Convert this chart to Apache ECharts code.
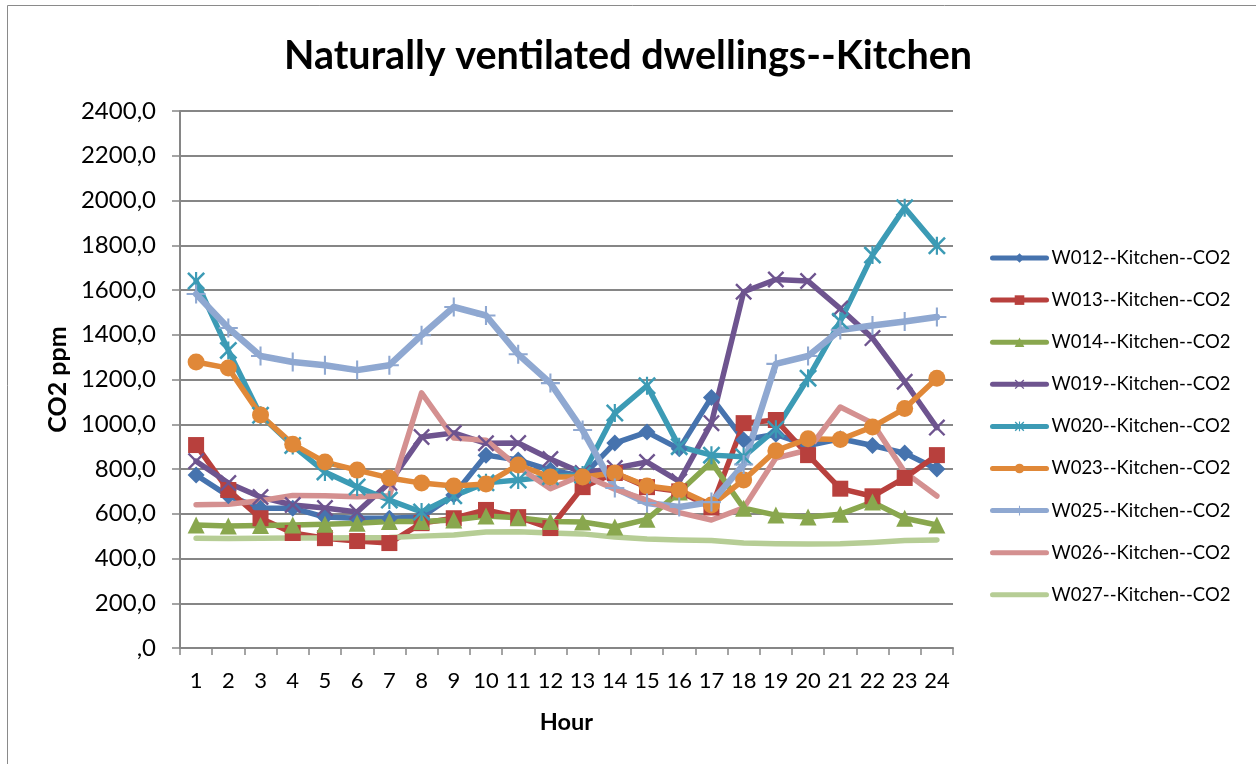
<!DOCTYPE html>
<html>
<head>
<meta charset="utf-8">
<title>Naturally ventilated dwellings--Kitchen</title>
<script src="https://cdn.jsdelivr.net/npm/echarts@6/dist/echarts.min.js"></script>
<style>
  html, body { margin: 0; padding: 0; background: #ffffff; }
  #chart { width: 1256px; height: 764px; }
</style>
</head>
<body>
<div id="chart"></div>
<script>
// Hourly kitchen CO2 concentration (ppm) per dwelling
const hours = ['1','2','3','4','5','6','7','8','9','10','11','12','13','14','15','16','17','18','19','20','21','22','23','24'];
const seriesNames = ['W012--Kitchen--CO2','W013--Kitchen--CO2','W014--Kitchen--CO2','W019--Kitchen--CO2','W020--Kitchen--CO2','W023--Kitchen--CO2','W025--Kitchen--CO2','W026--Kitchen--CO2','W027--Kitchen--CO2'];
const w012 = [773, 680, 625, 625, 585, 580, 580, 585, 684, 862, 840, 795, 768, 916, 965, 890, 1120, 930, 955, 905, 935, 905, 871, 800];
const w013 = [907, 706, 580, 514, 491, 478, 469, 558, 580, 617, 585, 536, 719, 782, 719, 700, 628, 1005, 1019, 862, 712, 678, 760, 862];
const w014 = [550, 545, 548, 550, 553, 558, 565, 565, 572, 590, 582, 565, 563, 541, 575, 697, 831, 625, 594, 585, 598, 652, 580, 550];
const w019 = [835, 737, 675, 639, 626, 608, 738, 943, 961, 915, 916, 845, 782, 804, 831, 745, 1005, 1592, 1647, 1640, 1517, 1385, 1190, 985];
const w020 = [1640, 1330, 1040, 905, 787, 720, 661, 608, 680, 738, 751, 765, 773, 1050, 1172, 900, 862, 855, 978, 1206, 1460, 1756, 1968, 1798];
const w023 = [1278, 1251, 1041, 911, 831, 795, 760, 737, 724, 733, 818, 764, 764, 782, 724, 706, 639, 751, 882, 935, 932, 988, 1070, 1206];
const w025 = [1582, 1430, 1305, 1278, 1264, 1242, 1264, 1398, 1524, 1486, 1313, 1184, 974, 715, 648, 630, 652, 820, 1270, 1305, 1421, 1441, 1459, 1479];
const w026 = [640, 642, 658, 682, 680, 676, 680, 1140, 938, 929, 809, 712, 773, 710, 661, 605, 572, 626, 849, 885, 1077, 1005, 786, 679];
const w027 = [490, 489, 490, 492, 492, 493, 494, 500, 505, 518, 520, 514, 510, 496, 487, 483, 480, 469, 466, 465, 466, 472, 480, 483];
const yTicks = [0, 200, 400, 600, 800, 1000, 1200, 1400, 1600, 1800, 2000, 2200, 2400];

// Marker outlines for the cross, asterisk and plus markers
const SYM_X = 'path://M0,2 L2,0 L20,18 L18,20 Z M18,0 L20,2 L2,20 L0,18 Z';
const SYM_STAR = 'path://M0,2 L2,0 L20,18 L18,20 Z M18,0 L20,2 L2,20 L0,18 Z M8.8,0 L11.2,0 L11.2,20 L8.8,20 Z';
const SYM_PLUS = 'path://M8.9,0 L11.1,0 L11.1,8.9 L20,8.9 L20,11.1 L11.1,11.1 L11.1,20 L8.9,20 L8.9,11.1 L0,11.1 L0,8.9 L8.9,8.9 Z';

const FONT = 'Lato';

const styles = [
  { data: w012, color: '#4673AE', symbol: 'diamond', size: 17, width: 5.5 },
  { data: w013, color: '#B8403D', symbol: 'rect', size: 16, width: 5.5 },
  { data: w014, color: '#89A74E', symbol: 'triangle', size: 17, width: 5.5 },
  { data: w019, color: '#6E548F', symbol: SYM_X, size: 17, width: 5.5 },
  { data: w020, color: '#3C9BB5', symbol: SYM_STAR, size: 18, width: 5.5 },
  { data: w023, color: '#E08838', symbol: 'circle', size: 17, width: 5.5 },
  { data: w025, color: '#8FA8D1', symbol: SYM_PLUS, size: 19, width: 6.5 },
  { data: w026, color: '#D49090', symbol: 'none', size: 0, width: 5.5 },
  { data: w027, color: '#B6CD95', symbol: 'none', size: 0, width: 5.5 }
];

const series = styles.map((s, i) => ({
  name: seriesNames[i],
  type: 'line',
  data: s.data,
  symbol: s.symbol,
  symbolSize: s.size,
  showSymbol: s.symbol !== 'none',
  showAllSymbol: true,
  animation: false,
  color: s.color,
  itemStyle: { color: s.color, borderWidth: 0 },
  lineStyle: { color: s.color, width: s.width, join: 'round', cap: 'round' },
  emphasis: { disabled: true }
}));

// Series without markers show only the line in the legend
const legendItems = seriesNames.map((name, i) =>
  styles[i].symbol === 'none' ? { name: name, itemStyle: { opacity: 0 } } : { name: name }
);

const fmt = v => (v === 0 ? ',0' : v.toFixed(1).replace('.', ','));

const chart = echarts.init(document.getElementById('chart'), null, { renderer: 'canvas' });
chart.setOption({
  backgroundColor: '#ffffff',
  animation: false,
  textStyle: { fontFamily: FONT },
  title: {
    text: 'Naturally ventilated dwellings--Kitchen',
    left: 'center',
    top: 31,
    textStyle: { fontFamily: FONT, fontWeight: 'bold', fontSize: 39.5, color: '#000000' }
  },
  graphic: [{
    type: 'rect',
    shape: { x: 7.5, y: 5.5, width: 1300, height: 800 },
    style: { fill: 'none', stroke: '#8a8a8a', lineWidth: 1 },
    silent: true,
    z: -1
  }],
  legend: {
    orient: 'vertical',
    left: 985,
    top: 243,
    itemWidth: 54,
    itemHeight: 12,
    itemGap: 22.1,
    lineStyle: { width: 5, cap: 'round' },
    textStyle: { fontFamily: FONT, fontSize: 18.5, color: '#000000', lineHeight: 20 },
    data: legendItems
  },
  grid: { left: 180, right: 303, top: 111, bottom: 116, containLabel: false },
  xAxis: {
    type: 'category',
    data: hours,
    boundaryGap: true,
    name: 'Hour',
    nameLocation: 'middle',
    nameGap: 62,
    nameTextStyle: { fontFamily: FONT, fontWeight: 'bold', fontSize: 23.5, color: '#000000' },
    axisLine: { lineStyle: { color: '#868686', width: 2 } },
    axisTick: { show: true, interval: 0, length: 7, alignWithLabel: false, lineStyle: { color: '#868686', width: 1.5 } },
    axisLabel: { interval: 0, margin: 22, fontFamily: FONT, fontSize: 22, color: '#000000' },
    splitLine: { show: false }
  },
  yAxis: {
    type: 'value',
    min: 0,
    max: 2400,
    interval: 200,
    name: 'CO2 ppm',
    nameLocation: 'middle',
    nameRotate: 90,
    nameGap: 110,
    nameTextStyle: { fontFamily: FONT, fontWeight: 'bold', fontSize: 25, color: '#000000' },
    axisLine: { show: true, lineStyle: { color: '#868686', width: 2 } },
    axisTick: { show: true, length: 8, lineStyle: { color: '#868686', width: 1.5 } },
    axisLabel: { margin: 24, fontFamily: FONT, fontSize: 24, color: '#000000', formatter: v => fmt(v), customValues: yTicks },
    splitLine: { show: true, lineStyle: { color: '#868686', width: 2 } }
  },
  series: series
});
</script>
</body>
</html>
